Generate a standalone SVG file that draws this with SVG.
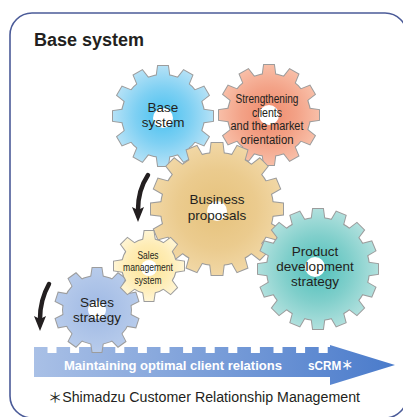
<svg xmlns="http://www.w3.org/2000/svg" xmlns:xlink="http://www.w3.org/1999/xlink" width="403" height="417" viewBox="0 0 403 417">
  <style>
    text { font-family: "Liberation Sans", Arial, "Noto Sans CJK JP", sans-serif; fill: #231f20; }
    .title { font-size: 18px; font-weight: bold; }
    .lbl { font-size: 13.5px; text-anchor: middle; }
    .cond { font-size: 12.5px; text-anchor: middle; }
    .small { font-size: 11px; text-anchor: middle; }
    .rim { fill: #9c9c9c; stroke: #9c9c9c; stroke-width: 2; }
    .hole { fill: #ffffff; }
    .bar { font-size: 12.5px; font-weight: bold; fill: #ffffff; }
    .note { font-size: 14px; }
    .curl { fill: none; stroke: #231f20; stroke-width: 4.5; stroke-linecap: round; }
    .curlhead { fill: #231f20; }
  </style>
  <defs>
    <!-- radial fills, centred on each gear's own origin -->
    <radialGradient id="fBlue" gradientUnits="userSpaceOnUse" cx="0" cy="0" r="50">
      <stop offset="0" stop-color="#48c1f0"/>
      <stop offset="0.55" stop-color="#7ed0f3"/>
      <stop offset="1" stop-color="#b4e1f6"/>
    </radialGradient>
    <radialGradient id="fSalmon" gradientUnits="userSpaceOnUse" cx="0" cy="0" r="50">
      <stop offset="0" stop-color="#ef8a6c"/>
      <stop offset="0.55" stop-color="#f3a287"/>
      <stop offset="1" stop-color="#f8bea7"/>
    </radialGradient>
    <radialGradient id="fTan" gradientUnits="userSpaceOnUse" cx="0" cy="0" r="66">
      <stop offset="0" stop-color="#e6c27c"/>
      <stop offset="0.6" stop-color="#ebcb8e"/>
      <stop offset="1" stop-color="#f1d7a5"/>
    </radialGradient>
    <radialGradient id="fTeal" gradientUnits="userSpaceOnUse" cx="0" cy="0" r="60">
      <stop offset="0" stop-color="#4fc0bb"/>
      <stop offset="0.55" stop-color="#80cfcb"/>
      <stop offset="1" stop-color="#b0e0dd"/>
    </radialGradient>
    <radialGradient id="fYellow" gradientUnits="userSpaceOnUse" cx="0" cy="0" r="35">
      <stop offset="0" stop-color="#fde396"/>
      <stop offset="0.6" stop-color="#feecb4"/>
      <stop offset="1" stop-color="#fff5d4"/>
    </radialGradient>
    <radialGradient id="fLav" gradientUnits="userSpaceOnUse" cx="0" cy="0" r="42">
      <stop offset="0" stop-color="#9fb9e4"/>
      <stop offset="1" stop-color="#b7cbeb"/>
    </radialGradient>
    <linearGradient id="fBar" x1="0" y1="0" x2="1" y2="0">
      <stop offset="0" stop-color="#a9c0e6"/>
      <stop offset="1" stop-color="#4a7bcb"/>
    </linearGradient>

    <!-- 12-tooth gear, outer radius 50 -->
    <polygon id="t12" points="-6.5,-39 -5,-50 5,-50 6.5,-39"/>
    <g id="gear12">
      <circle r="41"/>
      <use href="#t12"/>
      <use href="#t12" transform="rotate(30)"/>
      <use href="#t12" transform="rotate(60)"/>
      <use href="#t12" transform="rotate(90)"/>
      <use href="#t12" transform="rotate(120)"/>
      <use href="#t12" transform="rotate(150)"/>
      <use href="#t12" transform="rotate(180)"/>
      <use href="#t12" transform="rotate(210)"/>
      <use href="#t12" transform="rotate(240)"/>
      <use href="#t12" transform="rotate(270)"/>
      <use href="#t12" transform="rotate(300)"/>
      <use href="#t12" transform="rotate(330)"/>
    </g>

    <!-- 16-tooth gear, outer radius 66 -->
    <polygon id="t16a" points="-7,-54 -5.5,-66 5.5,-66 7,-54"/>
    <g id="gear16a">
      <circle r="56"/>
      <use href="#t16a"/>
      <use href="#t16a" transform="rotate(22.5)"/>
      <use href="#t16a" transform="rotate(45)"/>
      <use href="#t16a" transform="rotate(67.5)"/>
      <use href="#t16a" transform="rotate(90)"/>
      <use href="#t16a" transform="rotate(112.5)"/>
      <use href="#t16a" transform="rotate(135)"/>
      <use href="#t16a" transform="rotate(157.5)"/>
      <use href="#t16a" transform="rotate(180)"/>
      <use href="#t16a" transform="rotate(202.5)"/>
      <use href="#t16a" transform="rotate(225)"/>
      <use href="#t16a" transform="rotate(247.5)"/>
      <use href="#t16a" transform="rotate(270)"/>
      <use href="#t16a" transform="rotate(292.5)"/>
      <use href="#t16a" transform="rotate(315)"/>
      <use href="#t16a" transform="rotate(337.5)"/>
    </g>

    <!-- 16-tooth gear, outer radius 60 -->
    <polygon id="t16b" points="-6.5,-49 -5,-60 5,-60 6.5,-49"/>
    <g id="gear16b">
      <circle r="51"/>
      <use href="#t16b"/>
      <use href="#t16b" transform="rotate(22.5)"/>
      <use href="#t16b" transform="rotate(45)"/>
      <use href="#t16b" transform="rotate(67.5)"/>
      <use href="#t16b" transform="rotate(90)"/>
      <use href="#t16b" transform="rotate(112.5)"/>
      <use href="#t16b" transform="rotate(135)"/>
      <use href="#t16b" transform="rotate(157.5)"/>
      <use href="#t16b" transform="rotate(180)"/>
      <use href="#t16b" transform="rotate(202.5)"/>
      <use href="#t16b" transform="rotate(225)"/>
      <use href="#t16b" transform="rotate(247.5)"/>
      <use href="#t16b" transform="rotate(270)"/>
      <use href="#t16b" transform="rotate(292.5)"/>
      <use href="#t16b" transform="rotate(315)"/>
      <use href="#t16b" transform="rotate(337.5)"/>
    </g>

    <!-- 8-tooth gear, outer radius 35 -->
    <polygon id="t8" points="-6,-25 -4.5,-35 4.5,-35 6,-25"/>
    <g id="gear8">
      <circle r="27"/>
      <use href="#t8"/>
      <use href="#t8" transform="rotate(45)"/>
      <use href="#t8" transform="rotate(90)"/>
      <use href="#t8" transform="rotate(135)"/>
      <use href="#t8" transform="rotate(180)"/>
      <use href="#t8" transform="rotate(225)"/>
      <use href="#t8" transform="rotate(270)"/>
      <use href="#t8" transform="rotate(315)"/>
    </g>

    <!-- 10-tooth gear, outer radius 42 -->
    <polygon id="t10" points="-6,-32 -4.5,-42 4.5,-42 6,-32"/>
    <g id="gear10">
      <circle r="34"/>
      <use href="#t10"/>
      <use href="#t10" transform="rotate(36)"/>
      <use href="#t10" transform="rotate(72)"/>
      <use href="#t10" transform="rotate(108)"/>
      <use href="#t10" transform="rotate(144)"/>
      <use href="#t10" transform="rotate(180)"/>
      <use href="#t10" transform="rotate(216)"/>
      <use href="#t10" transform="rotate(252)"/>
      <use href="#t10" transform="rotate(288)"/>
      <use href="#t10" transform="rotate(324)"/>
    </g>
  </defs>

  <!-- frame -->
  <rect x="10" y="13" width="397" height="405" rx="22" fill="#ffffff" stroke="#4b5b98" stroke-width="1.6"/>
  <text class="title" x="34" y="46">Base system</text>

  <!-- rack arrow along the bottom -->
  <g id="rack">
    <path fill="url(#fBar)" d="M34,377 V347 H47.5 V353 H56.5 V347 H70.1 V353 H79.1 V347 H92.7 V353 H101.7 V347 H115.3 V353 H124.3 V347 H137.9 V353 H146.9 V347 H160.5 V353 H169.5 V347 H183.1 V353 H192.1 V347 H205.7 V353 H214.7 V347 H228.3 V353 H237.3 V347 H250.9 V353 H259.9 V347 H273.5 V353 H282.5 V347 H296.1 V353 H305.1 V347 H318.7 V353 H327.7 V347 H330 V345 L395,365 L330,385 V377 Z"/>
    <text class="bar" x="64" y="370" textLength="218" lengthAdjust="spacingAndGlyphs">Maintaining optimal client relations</text>
    <text class="bar" x="308" y="370" textLength="45" lengthAdjust="spacingAndGlyphs">sCRM＊</text>
  </g>

  <!-- gears -->
  <g id="gear-base" transform="translate(163,116)">
    <use href="#gear12" class="rim"/>
    <use href="#gear12" fill="url(#fBlue)"/>
    <circle class="hole" cx="0" cy="2" r="10"/>
    <text class="lbl" x="0" y="-4">Base</text>
    <text class="lbl" x="0" y="11">system</text>
  </g>

  <g id="gear-strengthening" transform="translate(269,115)">
    <use href="#gear12" class="rim"/>
    <use href="#gear12" fill="url(#fSalmon)"/>
    <circle class="hole" cx="0" cy="0" r="10"/>
    <text class="cond" x="-2" y="-12" textLength="63" lengthAdjust="spacingAndGlyphs">Strengthening</text>
    <text class="cond" x="-2" y="1.5" textLength="30" lengthAdjust="spacingAndGlyphs">clients</text>
    <text class="cond" x="-2" y="15" textLength="73" lengthAdjust="spacingAndGlyphs">and the market</text>
    <text class="cond" x="-2" y="28.5" textLength="53" lengthAdjust="spacingAndGlyphs">orientation</text>
  </g>

  <g id="gear-business" transform="translate(217,209)">
    <use href="#gear16a" class="rim"/>
    <use href="#gear16a" fill="url(#fTan)"/>
    <circle class="hole" cx="0" cy="2" r="10"/>
    <text class="lbl" x="0" y="-5" font-size="14">Business</text>
    <text class="lbl" x="0" y="10.5" font-size="14">proposals</text>
  </g>

  <g id="gear-product" transform="translate(318,269)">
    <use href="#gear16b" class="rim"/>
    <use href="#gear16b" fill="url(#fTeal)"/>
    <circle class="hole" cx="-3" cy="-2" r="10"/>
    <text class="lbl" x="-3" y="-13">Product</text>
    <text class="lbl" x="-3" y="2">development</text>
    <text class="lbl" x="-3" y="17">strategy</text>
  </g>

  <g id="gear-sales" transform="translate(97,310)">
    <use href="#gear10" class="rim"/>
    <use href="#gear10" fill="url(#fLav)"/>
    <circle class="hole" cx="0" cy="0" r="9"/>
    <text class="lbl" x="0" y="-3">Sales</text>
    <text class="lbl" x="0" y="12">strategy</text>
  </g>

  <g id="gear-salesmgmt" transform="translate(149,266)">
    <use href="#gear8" class="rim"/>
    <use href="#gear8" fill="url(#fYellow)"/>
    <circle class="hole" cx="0" cy="2" r="8"/>
    <text class="small" x="-1" y="-7" textLength="21" lengthAdjust="spacingAndGlyphs">Sales</text>
    <text class="small" x="-1" y="5.3" textLength="50" lengthAdjust="spacingAndGlyphs">management</text>
    <text class="small" x="-1" y="17.6" textLength="27" lengthAdjust="spacingAndGlyphs">system</text>
  </g>

  <!-- rotation arrows -->
  <g id="connectors">
    <path class="curl" d="M148,175 Q138,190 138,210"/>
    <polygon class="curlhead" points="132,207 138,210 144,207 138,222"/>
    <path class="curl" d="M49,284 Q40,300 40,319"/>
    <polygon class="curlhead" points="34,316 40,319 46,316 40,331"/>
  </g>

  <text class="note" x="48" y="402" textLength="312" lengthAdjust="spacingAndGlyphs">＊Shimadzu Customer Relationship Management</text>
</svg>
